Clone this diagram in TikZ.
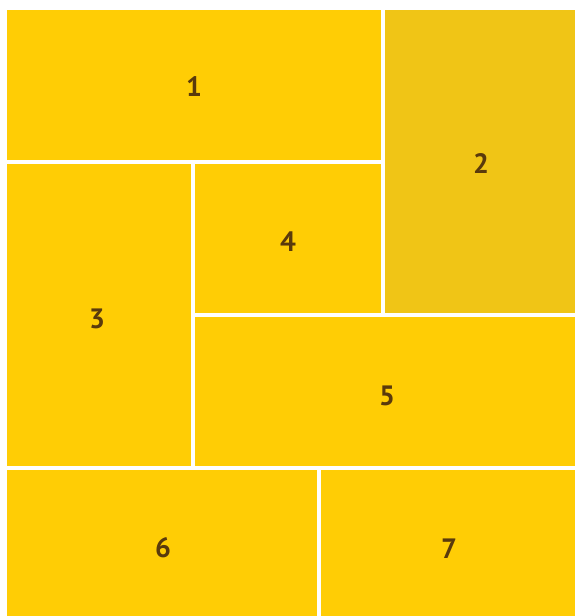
\documentclass[tikz,border=0pt]{standalone}
\usepackage{fontspec}
\setmainfont{PT Sans}
\definecolor{tileY}{HTML}{FFCD05}
\definecolor{tileD}{HTML}{F0C516}
\definecolor{numC}{HTML}{5A3A0C}
\begin{document}
\begin{tikzpicture}[x=1pt,y=-1pt,
  tile/.style={fill=tileY,draw=none},
  lbl/.style={text=numC,font=\bfseries\fontsize{28}{32}\selectfont}]
\useasboundingbox (0,0) rectangle (575,616);
\fill[white] (0,0) rectangle (575,616);
\fill[tile] (7,10) rectangle (381,160);
\fill[tileD] (385,10) rectangle (575,313);
\fill[tile] (7,164) rectangle (191,466);
\fill[tile] (195,164) rectangle (381,313);
\fill[tile] (195,317) rectangle (575,466);
\fill[tile] (7,470) rectangle (317,616);
\fill[tile] (321,470) rectangle (575,616);
\node[lbl] (n1) at (194,87) {1};
\node[lbl] (n2) at (481,164) {2};
\node[lbl] (n3) at (97,319) {3};
\node[lbl] (n4) at (288,242) {4};
\node[lbl] (n5) at (387,396) {5};
\node[lbl] (n6) at (163,548) {6};
\node[lbl] (n7) at (449,549) {7};
\end{tikzpicture}
\end{document}
